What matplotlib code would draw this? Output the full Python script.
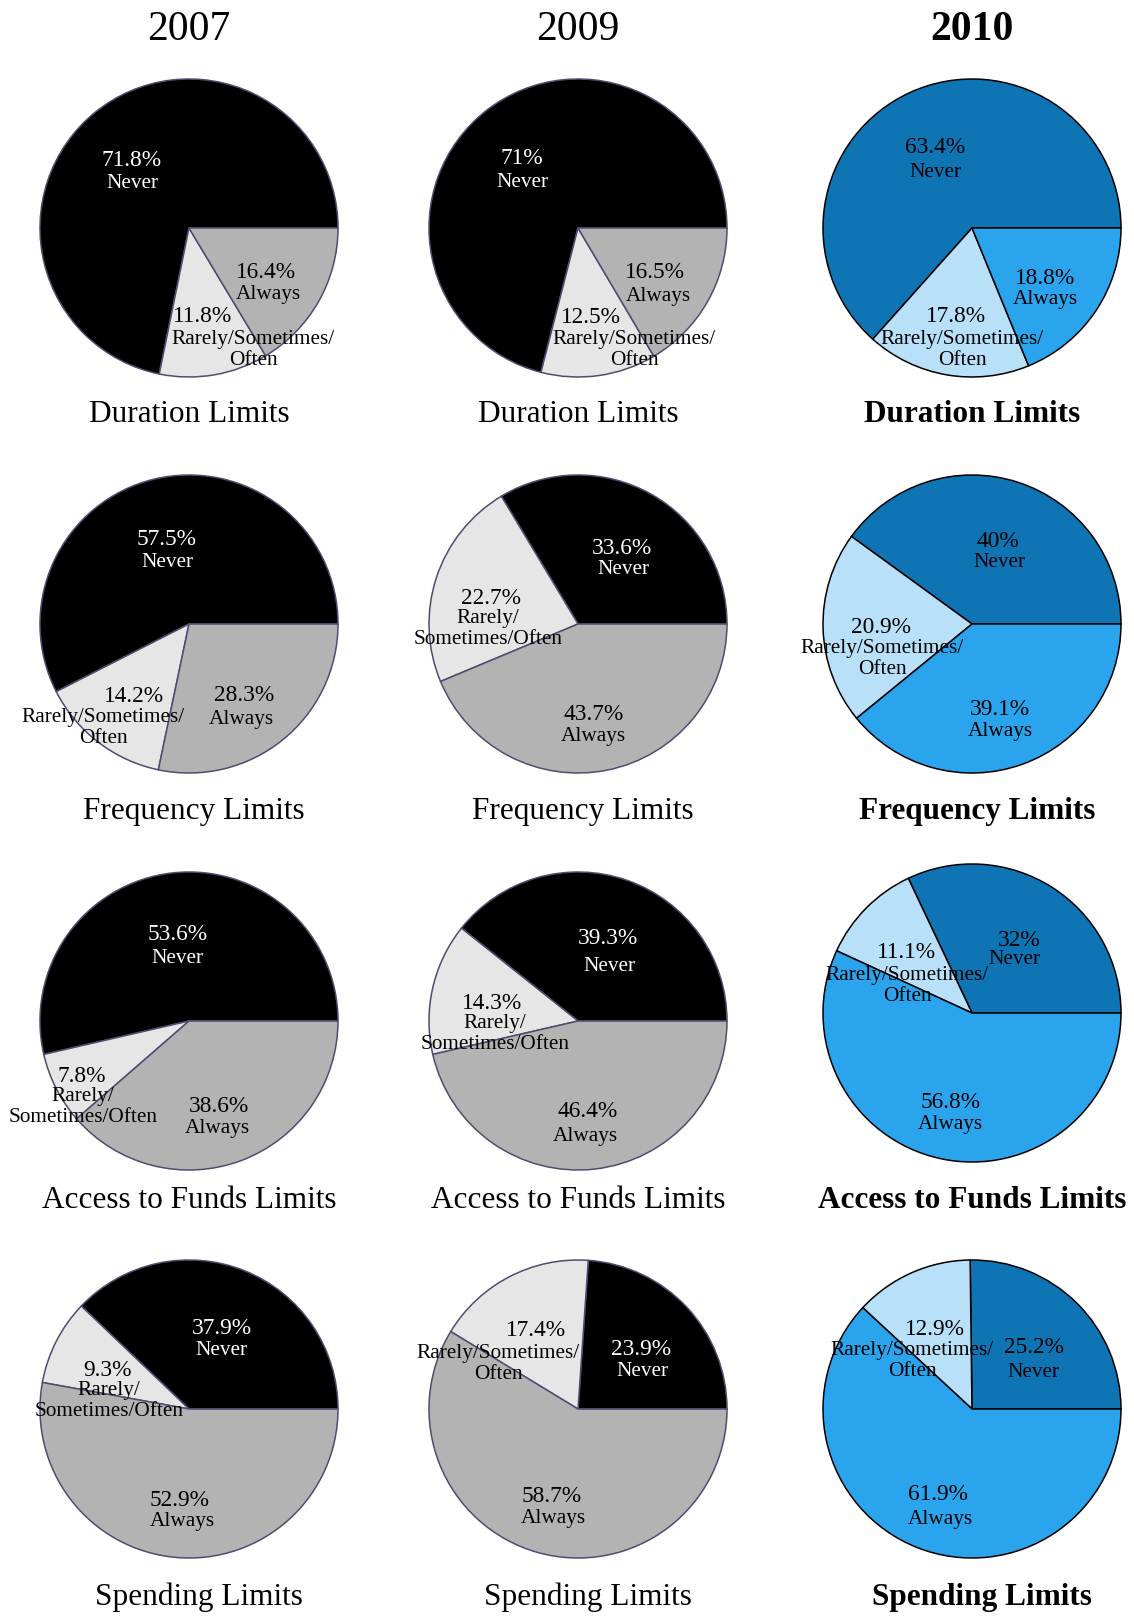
import matplotlib.pyplot as plt

# данные: доли ответов (%) по годам
years = ['2007', '2009', '2010']
limit_types = ['Duration Limits', 'Frequency Limits', 'Access to Funds Limits', 'Spending Limits']
categories = ['Never', 'Rarely/Sometimes/Often', 'Always']

never_2007 = [71.8, 57.5, 53.6, 37.9]
rarely_2007 = [11.8, 14.2, 7.8, 9.3]
always_2007 = [16.4, 28.3, 38.6, 52.9]

never_2009 = [71, 33.6, 39.3, 23.9]
rarely_2009 = [12.5, 22.7, 14.3, 17.4]
always_2009 = [16.5, 43.7, 46.4, 58.7]

never_2010 = [63.4, 40, 32, 25.2]
rarely_2010 = [17.8, 20.9, 11.1, 12.9]
always_2010 = [18.8, 39.1, 56.8, 61.9]

series = {
    '2007': (never_2007, rarely_2007, always_2007),
    '2009': (never_2009, rarely_2009, always_2009),
    '2010': (never_2010, rarely_2010, always_2010),
}

# оформление
W, H = 1134, 1617
R = 149
col_x = [189, 578, 972]
row_y = [228, 624, 1021, 1409]
title_y = [422, 819, 1208, 1605]
title_dx = [0, 5, 0, 10]
grey_colors = ['#000000', '#e6e6e6', '#b3b3b3']
blue_colors = ['#0e74b4', '#b8e0f8', '#2ba4ee']

# перенос строки в подписи "Rarely/Sometimes/Often": 'a' -> после второго "/", 'b' -> после первого
rarely_wrap = [['a', 'a', 'a'],
               ['a', 'b', 'a'],
               ['b', 'b', 'a'],
               ['b', 'a', 'a']]

# смещения подписей от центра (px): (pct_dx, pct_dy, cat_dx, cat_dy) для Never, Rarely, Always
label_offsets = [
    [[(-57, -62, -57, -54), (14, 94, 64, 102), (77, 50, 79, 57)],
     [(-56, -64, -56, -55), (13, 95, 56, 102), (77, 50, 80, 59)],
     [(-37, -75, -37, -65), (-16, 94, -10, 102), (73, 56, 73, 62)]],
    [[(-22, -79, -22, -71), (-55, 78, -86, 84), (55, 77, 52, 86)],
     [(44, -70, 45, -64), (-87, -20, -90, -15), (16, 96, 15, 103)],
     [(26, -77, 27, -71), (-91, 9, -90, 15), (28, 91, 28, 98)]],
    [[(-11, -81, -12, -72), (-107, 61, -106, 66), (30, 91, 28, 98)],
     [(30, -77, 31, -64), (-86, -12, -83, -7), (10, 96, 7, 106)],
     [(47, -67, 42, -63), (-65, -55, -65, -47), (-21, 95, -22, 102)]],
    [[(33, -75, 32, -68), (-81, -33, -80, -28), (-9, 97, -7, 103)],
     [(63, -54, 64, -47), (-42, -73, -80, -65), (-26, 93, -25, 100)],
     [(62, -56, 61, -46), (-37, -74, -60, -68), (-34, 91, -32, 101)]],
]

serif = 'Liberation Serif'

fig = plt.figure(figsize=(W / 100, H / 100), dpi=100)
ax = fig.add_axes([0, 0, 1, 1])


def fy(y):
    return H - y


for col, year in enumerate(years):
    weight = 'bold' if col == 2 else 'normal'
    colors = blue_colors if col == 2 else grey_colors
    edge = '#000000' if col == 2 else '#4d4d70'
    ax.text(col_x[col], fy(40), year, ha='center', va='baseline',
            fontsize=30, fontweight=weight, family=serif)
    for row, name in enumerate(limit_types):
        values = [s[row] for s in series[year]]
        cx = col_x[col]
        cy = row_y[row] - (8 if (row, col) == (2, 2) else 0)
        ax.pie(values, colors=colors, startangle=0, counterclock=True, radius=R,
               center=(cx, fy(cy)), wedgeprops=dict(edgecolor=edge, linewidth=1.1))
        for k, cat in enumerate(categories):
            pdx, pdy, cdx, cdy = label_offsets[row][col][k]
            if cat.startswith('Rarely'):
                cat_text = 'Rarely/Sometimes/\nOften' if rarely_wrap[row][col] == 'a' else 'Rarely/\nSometimes/Often'
            else:
                cat_text = cat
            color = 'white' if (k == 0 and col != 2) else 'black'
            ax.text(cx + pdx, fy(cy + pdy), f'{values[k]:g}%', ha='center', va='baseline',
                    fontsize=16.8, color=color, family=serif)
            ax.text(cx + cdx, fy(cy + cdy), cat_text, ha='center', va='top', multialignment='center',
                    fontsize=15.3, color=color, family=serif, linespacing=1.17)
        ax.text(cx + title_dx[row], fy(title_y[row]), name, ha='center', va='baseline',
                fontsize=22.5, fontweight=weight, family=serif)

ax.set_xlim(0, W)
ax.set_ylim(0, H)
ax.set_aspect('equal')
ax.axis('off')
fig.savefig('out.png', dpi=100)
